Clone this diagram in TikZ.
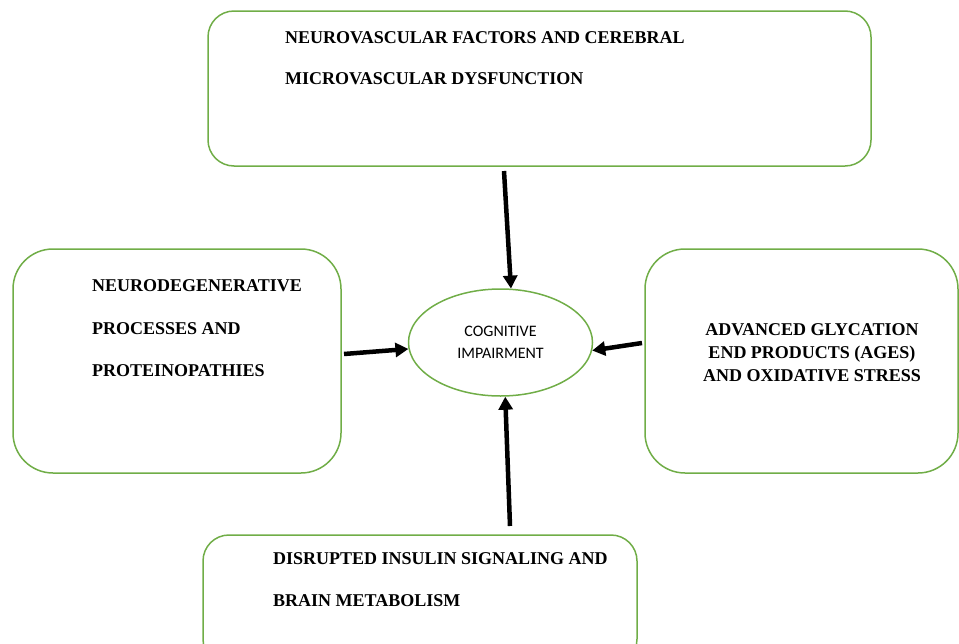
\documentclass[tikz,border=0pt]{standalone}
\usepackage{fontspec}
\setmainfont{Liberation Serif}
\newfontfamily\calib{Carlito}
\usetikzlibrary{arrows.meta,shapes.geometric}
\definecolor{boxgreen}{RGB}{112,173,71}
\tikzset{
  factorbox/.style={draw=boxgreen, line width=1.5pt, rectangle, inner sep=0pt},
  factortext/.style={font=\fontsize{18}{18}\selectfont\bfseries, inner sep=0pt, anchor=base west},
  centretext/.style={font=\fontsize{18}{23}\selectfont\bfseries, inner sep=0pt, align=center},
  hub/.style={draw=boxgreen, line width=1.5pt, ellipse, minimum width=184pt, minimum height=107pt, inner sep=0pt, align=center, font=\calib\fontsize{16}{22}\selectfont},
  flow/.style={line width=4.5pt, -{Triangle[length=13pt,width=14pt]}}
}
\begin{document}
\begin{tikzpicture}[x=1pt,y=-1pt]
\useasboundingbox (0,0) rectangle (959,643);
% boxes
\node[factorbox, rounded corners=26pt, minimum width=663pt, minimum height=155pt] (top) at (539.5,88.5) {};
\node[factorbox, rounded corners=40pt, minimum width=328pt, minimum height=224pt] (left) at (177,361) {};
\node[factorbox, rounded corners=40pt, minimum width=313pt, minimum height=224pt] (right) at (801.5,361) {};
\node[factorbox, rounded corners=26pt, minimum width=434pt, minimum height=130pt] (bottom) at (420,600) {};
% texts
\node[factortext] (t1) at (285,43) {NEUROVASCULAR FACTORS AND CEREBRAL};
\node[factortext] (t2) at (285,84) {MICROVASCULAR DYSFUNCTION};
\node[factortext] (l1) at (92,291) {NEURODEGENERATIVE};
\node[factortext] (l2) at (92,334) {PROCESSES AND};
\node[factortext] (l3) at (92,376) {PROTEINOPATHIES};
\node[centretext] (r1) at (812,353) {ADVANCED GLYCATION\\END PRODUCTS (AGES)\\AND OXIDATIVE STRESS};
\node[factortext] (b1) at (273,564) {DISRUPTED INSULIN SIGNALING AND};
\node[factortext] (b2) at (273,606) {BRAIN METABOLISM};
% hub
\node[hub] (hub) at (500.5,342.5) {COGNITIVE\\IMPAIRMENT};
% connectors
\coordinate (ts) at (504,171);
\coordinate (ls) at (344,354);
\coordinate (rs) at (642,343);
\coordinate (bs) at (510,526);
\draw[flow] (ts) -- (hub.79);
\draw[flow] (ls) -- (hub.184);
\draw[flow] (rs) -- (hub.355);
\draw[flow] (bs) -- (hub.275);
\end{tikzpicture}
\end{document}
